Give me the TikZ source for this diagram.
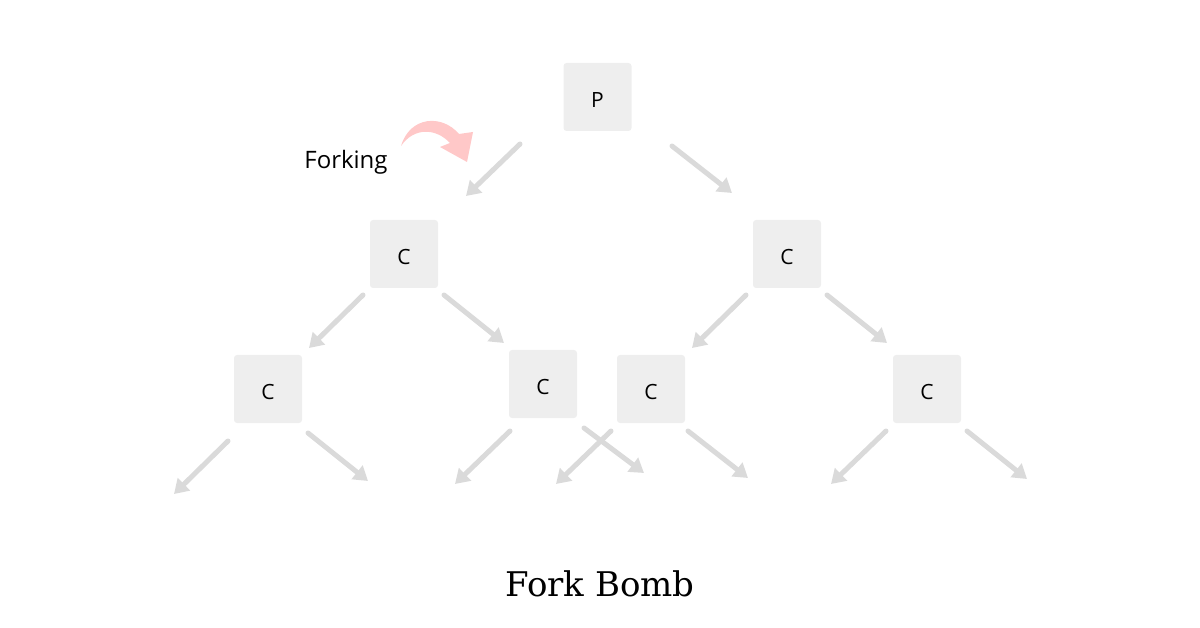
\documentclass[tikz,border=0pt]{standalone}
\usepackage{fontspec}
\setmainfont{DejaVu Serif}
\newfontfamily\boxfont{Open Sans}
\usepackage{xcolor}
\usetikzlibrary{arrows.meta}
\definecolor{boxgray}{RGB}{238, 238, 238}
\definecolor{arrowgray}{RGB}{218, 218, 218}
\definecolor{forkpink}{RGB}{255, 200, 200}

\begin{document}
\begin{tikzpicture}[
    x=1pt, y=-1pt,
    proc/.style={rectangle, fill=boxgray, rounded corners=3pt, minimum width=68pt, minimum height=68pt, inner sep=0pt, text height=21pt, text depth=0pt, font=\boxfont\fontsize{21}{21}\selectfont},
    arrow/.style={-{Triangle[length=14pt, width=17pt]}, line width=5pt, line cap=round, arrowgray}
]
    \useasboundingbox (0,0) rectangle (1200,628);

    % Nodes
    \node[proc] (p)  at (597.5,97)  {P};
    \node[proc] (c1) at (404,254)   {C};
    \node[proc] (c2) at (787,254)   {C};
    \node[proc] (c3) at (268,389)   {C};
    \node[proc] (c4) at (543,384)   {C};
    \node[proc] (c5) at (651,389)   {C};
    \node[proc] (c6) at (927,389)   {C};
    \node[font=\boxfont\fontsize{24}{24}\selectfont] (forking) at (346,162) {Forking};
    \node[font=\fontsize{34}{34}\selectfont] (title) at (600,584) {Fork Bomb};

    % Arrow ends
    \coordinate (pls) at (520,144);  \coordinate (ple) at (466,196);
    \coordinate (prs) at (672,146);  \coordinate (pre) at (732,193);
    \coordinate (c1ls) at (363,295); \coordinate (c1le) at (309,348);
    \coordinate (c1rs) at (444,295); \coordinate (c1re) at (504,343);
    \coordinate (c2ls) at (746,295); \coordinate (c2le) at (692,348);
    \coordinate (c2rs) at (827,295); \coordinate (c2re) at (887,343);
    \coordinate (c3ls) at (228,441); \coordinate (c3le) at (174,494);
    \coordinate (c3rs) at (308,433); \coordinate (c3re) at (368,481);
    \coordinate (c4ls) at (510,431); \coordinate (c4le) at (455,484);
    \coordinate (c4rs) at (584,428); \coordinate (c4re) at (644,473);
    \coordinate (c5ls) at (611,431); \coordinate (c5le) at (556,484);
    \coordinate (c5rs) at (688,431); \coordinate (c5re) at (748,478);
    \coordinate (c6ls) at (886,431); \coordinate (c6le) at (831,484);
    \coordinate (c6rs) at (967,431); \coordinate (c6re) at (1027,479);

    % Paths
    \foreach \a in {pl,pr,c1l,c1r,c2l,c2r,c3l,c3r,c4l,c4r,c5l,c5r,c6l,c6r}
        \draw[arrow] (\a s) -- (\a e);

    % Forking arrow
    \fill[forkpink] (401,146) .. controls (410,116) and (442,114) .. (459,134)
        -- (473,132) -- (467,162) -- (440,147) -- (450,143)
        .. controls (436,128) and (414,127) .. (401,146) -- cycle;
\end{tikzpicture}
\end{document}
